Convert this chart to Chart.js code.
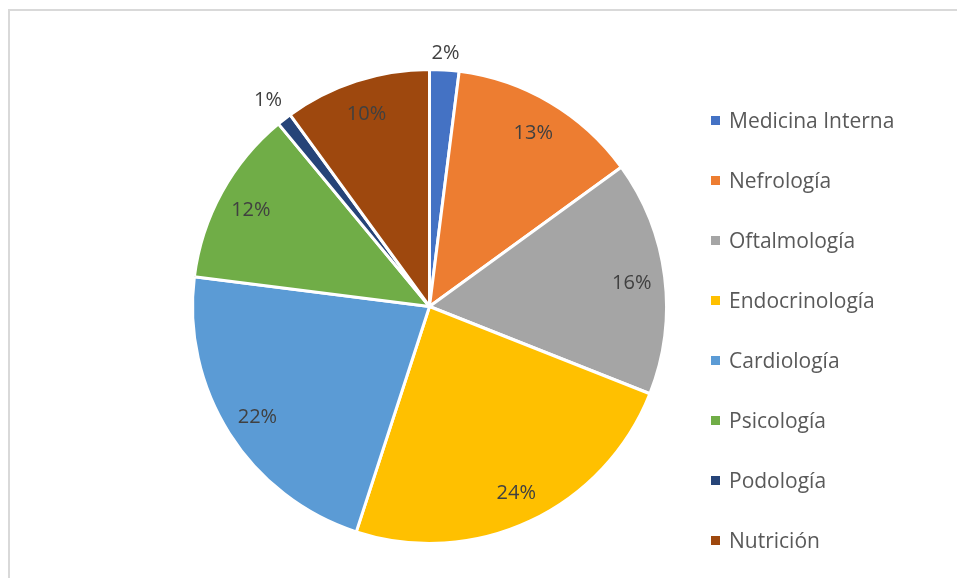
<!DOCTYPE html>
<html lang="es">
<head>
    <meta charset="UTF-8">
    <title>Especialidades</title>
    <script src="https://cdn.jsdelivr.net/npm/chart.js"></script>
    <style>
        body { margin: 0; background: #fff; }
    </style>
</head>
<body>
    <canvas id="myChart" width="957" height="578"></canvas>
    <script>
        // datos del gráfico
        const especialidades = ['Medicina Interna', 'Nefrología', 'Oftalmología', 'Endocrinología',
            'Cardiología', 'Psicología', 'Podología', 'Nutrición'];
        const porcentajes = [2, 13, 16, 24, 22, 12, 1, 10];
        const colores = ['#4472C4', '#ED7D31', '#A5A5A5', '#FFC000', '#5B9BD5', '#70AD47', '#264478', '#9E480E'];

        const fuente = '"Open Sans", sans-serif';

        // marco gris (solo arriba e izquierda visibles)
        const marco = {
            id: 'marco',
            beforeDraw(chart) {
                const ctx = chart.ctx;
                ctx.save();
                ctx.fillStyle = '#d9d9d9';
                ctx.fillRect(8, 9, 2, chart.height);
                ctx.fillRect(8, 9, chart.width, 2);
                ctx.restore();
            }
        };

        // etiquetas de porcentaje en cada sector
        const etiquetas = {
            id: 'etiquetas',
            afterDatasetsDraw(chart) {
                const ctx = chart.ctx;
                const meta = chart.getDatasetMeta(0);
                ctx.save();
                ctx.font = '20px ' + fuente;
                ctx.fillStyle = '#404040';
                ctx.textAlign = 'center';
                ctx.textBaseline = 'middle';
                meta.data.forEach((arc, i) => {
                    const p = arc.getProps(['x', 'y', 'startAngle', 'endAngle', 'outerRadius'], true);
                    const mid = (p.startAngle + p.endAngle) / 2;
                    const texto = porcentajes[i] + '%';
                    let r = p.outerRadius * 0.86;
                    if (porcentajes[i] < 3) {
                        // fuera del sector, como en Excel
                        const w = ctx.measureText(texto).width;
                        r = p.outerRadius + 18 + (w / 2) * Math.abs(Math.cos(mid));
                    }
                    ctx.fillText(texto, p.x + Math.cos(mid) * r, p.y + Math.sin(mid) * r + 2);
                });
                ctx.restore();
            }
        };

        // leyenda a la derecha
        const leyenda = {
            id: 'leyenda',
            afterDraw(chart) {
                const ctx = chart.ctx;
                ctx.save();
                ctx.font = '21px ' + fuente;
                ctx.textBaseline = 'middle';
                especialidades.forEach((nombre, i) => {
                    const y = 120 + i * 60;
                    ctx.fillStyle = colores[i];
                    ctx.fillRect(711, y - 4, 9, 9);
                    ctx.fillStyle = '#595959';
                    ctx.fillText(nombre, 729, y + 2);
                });
                ctx.restore();
            }
        };

        const ctx = document.getElementById('myChart').getContext('2d');
        new Chart(ctx, {
            type: 'pie',
            data: {
                labels: especialidades,
                datasets: [{
                    data: porcentajes,
                    backgroundColor: colores,
                    borderColor: '#ffffff',
                    borderWidth: 3
                }]
            },
            options: {
                responsive: false,
                animation: false,
                layout: {
                    padding: { left: 191, right: 289, top: 68, bottom: 33 }
                },
                plugins: {
                    legend: { display: false },
                    tooltip: { enabled: false }
                }
            },
            plugins: [marco, etiquetas, leyenda]
        });
    </script>
</body>
</html>
